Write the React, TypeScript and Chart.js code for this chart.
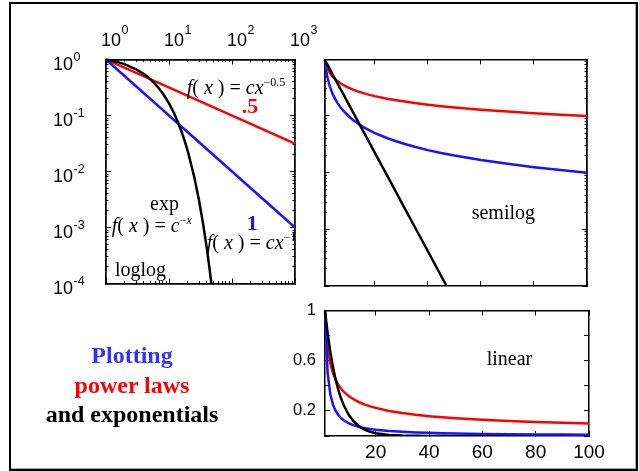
import React, { useEffect, useRef } from 'react';
import { Chart, registerables } from 'chart.js';

Chart.register(...registerables);

const SANS = '"Liberation Sans", Arial, Helvetica, sans-serif';
const SERIF = '"Liberation Serif", "Times New Roman", Times, serif';

// ---------------- data ----------------
// log-log panel: straight power laws from x=1 to x=1000
const loglogX = [1, 1000];
const loglogRed = [1, 0.0316]; // f(x) = c x^-0.5
const loglogBlue = [1, 0.001]; // f(x) = c x^-1

// exponential
const expX = [1, 1.5, 2, 3, 4, 5, 6, 7, 8, 10, 12, 14, 16, 18, 20, 25, 30, 35, 40, 44, 47];
const expY = [1, 0.905, 0.819, 0.67, 0.549, 0.449, 0.368, 0.301, 0.247, 0.165, 0.111, 0.0743, 0.0498, 0.0334, 0.0224, 0.00823, 0.00303, 0.00111, 0.00041, 0.000184, 0.000101];

// semilog / linear panels: x from 1 to 100
const linX = [1, 2, 3, 4, 5, 6, 7, 8, 10, 12, 14, 16, 18, 20, 25, 30, 35, 40, 45, 50, 60, 70, 80, 90, 100];
const linRed = [1, 0.707, 0.577, 0.5, 0.447, 0.408, 0.378, 0.354, 0.316, 0.289, 0.267, 0.25, 0.236, 0.224, 0.2, 0.183, 0.169, 0.158, 0.149, 0.141, 0.129, 0.12, 0.112, 0.105, 0.1];
const linBlue = [1, 0.5, 0.333, 0.25, 0.2, 0.167, 0.143, 0.125, 0.1, 0.0833, 0.0714, 0.0625, 0.0556, 0.05, 0.04, 0.0333, 0.0286, 0.025, 0.0222, 0.02, 0.0167, 0.0143, 0.0125, 0.0111, 0.01];

// ticks
const logYTicks = [0.0001, 0.001, 0.01, 0.1, 1];
const logYBase = ['10', '10', '10', '10', '10'];
const logYExps = ['-4', '-3', '-2', '-1', '0'];
const logXTicks = [1, 10, 100, 1000];
const logXBase = ['10', '10', '10', '10'];
const logXExps = ['0', '1', '2', '3'];
const linXTicks = [20, 40, 60, 80, 100];
const linXLabels = ['20', '40', '60', '80', '100'];
const linYTicks = [0, 0.2, 0.4, 0.6, 0.8, 1];
const linYLabels = ['', '0.2', '', '0.6', '', '1'];

const RED = '#ff0000';
const BLUE = 'rgb(20,20,255)';
const BLACK = '#000000';

const TICK_FONT = 18;
const EXP_FONT = 12.5;
const Y_LABEL_OFFSET = 6;
const X_LABEL_OFFSET = 5;

function minorDecades(lo: number, hi: number): number[] {
  const out: number[] = [];
  for (let e = lo; e < hi; e++) {
    for (let m = 2; m <= 9; m++) out.push(Number((m * Math.pow(10, e)).toPrecision(3)));
  }
  return out;
}

type AxisOpt = {
  pos: 'left' | 'right' | 'top' | 'bottom';
  type: 'linear' | 'logarithmic';
  min: number;
  max: number;
  ticks: number[];
  len: number;
  size?: number;
  labels?: string[];
  font?: number;
  pad?: number;
  crossAlign?: 'near' | 'far' | 'center';
  offset?: number;
};

function axis(o: AxisOpt): any {
  const horiz = o.pos === 'top' || o.pos === 'bottom';
  return {
    type: o.type,
    position: o.pos,
    min: o.min,
    max: o.max,
    weight: o.labels ? 1 : 0,
    afterBuildTicks: (s: any) => {
      s.ticks = o.ticks.map((v) => ({ value: v }));
    },
    afterFit: (s: any) => {
      if (horiz) s.height = o.size || 0;
      else s.width = o.size || 0;
      s.paddingLeft = 0;
      s.paddingRight = 0;
      s.paddingTop = 0;
      s.paddingBottom = 0;
    },
    grid: {
      display: true,
      drawOnChartArea: false,
      drawTicks: true,
      tickLength: -o.len,
      tickColor: '#000',
      tickWidth: 1,
      lineWidth: 1,
    },
    border: { display: true, color: '#000', width: 1.5 },
    ticks: o.labels
      ? {
          display: true,
          autoSkip: false,
          maxRotation: 0,
          minRotation: 0,
          color: '#000',
          font: { size: o.font, family: SANS },
          padding: o.pad,
          crossAlign: o.crossAlign || 'near',
          labelOffset: o.offset || 0,
          callback: (_v: any, i: number) => (o.labels as string[])[i],
        }
      : { display: false },
  };
}

function lineDs(xs: number[], ys: number[], color: string, extra: any = {}) {
  return {
    data: xs.map((x, i) => ({ x, y: ys[i] })),
    borderColor: color,
    backgroundColor: color,
    borderWidth: 2.5,
    pointRadius: 0,
    fill: false,
    tension: 0,
    ...extra,
  };
}

const clipBottom = { left: 2, right: 2, top: 2, bottom: 0 };

function baseOptions(padding: any, scales: any): any {
  return {
    animation: false,
    responsive: false,
    events: [],
    layout: { padding },
    plugins: { legend: { display: false }, tooltip: { enabled: false } },
    scales,
  };
}

// draws the exponents of the "10" tick labels, placed from the scales' tick pixels
const exponentPlugin = {
  id: 'exponents',
  afterDraw(chart: any) {
    const ctx = chart.ctx;
    ctx.save();
    ctx.fillStyle = '#000';
    ctx.textAlign = 'left';
    ctx.textBaseline = 'alphabetic';
    ctx.font = `${TICK_FONT}px ${SANS}`;
    const w10 = ctx.measureText('10').width;
    ctx.font = `${EXP_FONT}px ${SANS}`;
    const ys = chart.scales.y;
    logYTicks.forEach((v, i) => {
      const mid = ys.getPixelForValue(v) + Y_LABEL_OFFSET;
      const baseline = mid + TICK_FONT * 0.35;
      ctx.fillText(logYExps[i], ys.left + w10 + 0.5, baseline - 10.5);
    });
    const xs = chart.scales.x;
    const topBaseline = xs.bottom - 7.7 - TICK_FONT * 0.6 + TICK_FONT * 0.35;
    logXTicks.forEach((v, i) => {
      const cx = xs.getPixelForValue(v) + X_LABEL_OFFSET;
      ctx.fillText(logXExps[i], cx + w10 / 2 + 0.5, topBaseline - 13);
    });
    ctx.restore();
  },
};

function loglogConfig(): any {
  const yMinor = minorDecades(-4, 0);
  const xMinor = minorDecades(0, 3);
  const yl = { type: 'logarithmic' as const, min: 0.0001, max: 1 };
  const xl = { type: 'logarithmic' as const, min: 1, max: 1000 };
  return {
    type: 'line',
    data: {
      datasets: [
        lineDs(expX, expY, BLACK, { clip: clipBottom }),
        lineDs(loglogX, loglogBlue, BLUE),
        lineDs(loglogX, loglogRed, RED),
      ],
    },
    options: baseOptions(
      { left: 13, right: 45, top: 0, bottom: 11.5 },
      {
        y: axis({ ...yl, pos: 'left', ticks: logYTicks, len: 5, size: 53, labels: logYBase, font: TICK_FONT, crossAlign: 'far', offset: Y_LABEL_OFFSET }),
        ym: axis({ ...yl, pos: 'left', ticks: yMinor, len: 2.5 }),
        yr: axis({ ...yl, pos: 'right', ticks: logYTicks, len: 5 }),
        yrm: axis({ ...yl, pos: 'right', ticks: yMinor, len: 2.5 }),
        x: axis({ ...xl, pos: 'top', ticks: logXTicks, len: 5, size: 59.5, labels: logXBase, font: TICK_FONT, pad: 12.7, offset: X_LABEL_OFFSET }),
        xm: axis({ ...xl, pos: 'top', ticks: xMinor, len: 2.5 }),
        xb: axis({ ...xl, pos: 'bottom', ticks: logXTicks, len: 5 }),
        xbm: axis({ ...xl, pos: 'bottom', ticks: xMinor, len: 2.5 }),
      }
    ),
    plugins: [exponentPlugin],
  };
}

function semilogConfig(): any {
  const yMinor = minorDecades(-4, 0);
  const yl = { type: 'logarithmic' as const, min: 0.0001, max: 1 };
  const xl = { type: 'linear' as const, min: 1, max: 100 };
  return {
    type: 'line',
    data: {
      datasets: [
        lineDs(expX, expY, BLACK, { clip: clipBottom }),
        lineDs(linX, linBlue, BLUE),
        lineDs(linX, linRed, RED),
      ],
    },
    options: baseOptions(
      { left: 10.5, right: 10, top: 10.3, bottom: 10 },
      {
        y: axis({ ...yl, pos: 'left', ticks: logYTicks, len: 5 }),
        ym: axis({ ...yl, pos: 'left', ticks: yMinor, len: 2.5 }),
        yr: axis({ ...yl, pos: 'right', ticks: logYTicks, len: 5 }),
        yrm: axis({ ...yl, pos: 'right', ticks: yMinor, len: 2.5 }),
        x: axis({ ...xl, pos: 'bottom', ticks: linXTicks, len: 5 }),
        xt: axis({ ...xl, pos: 'top', ticks: linXTicks, len: 5 }),
      }
    ),
  };
}

function linearConfig(): any {
  const yl = { type: 'linear' as const, min: 0, max: 1 };
  const xl = { type: 'linear' as const, min: 1, max: 100 };
  return {
    type: 'line',
    data: {
      datasets: [
        lineDs(expX, expY, BLACK, { clip: clipBottom }),
        lineDs(linX, linBlue, BLUE, { clip: clipBottom }),
        lineDs(linX, linRed, RED),
      ],
    },
    options: baseOptions(
      { left: 0, right: 21, top: 10.5, bottom: 0 },
      {
        y: axis({ ...yl, pos: 'left', ticks: linYTicks, len: 5, size: 60, labels: linYLabels, font: 16.5, pad: 14 }),
        yr: axis({ ...yl, pos: 'right', ticks: linYTicks, len: 5 }),
        x: axis({ ...xl, pos: 'bottom', ticks: linXTicks, len: 5, size: 35, labels: linXLabels, font: 19, pad: 10.5 }),
        xt: axis({ ...xl, pos: 'top', ticks: linXTicks, len: 5 }),
      }
    ),
  };
}

function ChartBox(props: { left: number; top: number; width: number; height: number; make: () => any }) {
  const ref = useRef<HTMLCanvasElement>(null);
  useEffect(() => {
    const chart = new Chart(ref.current as HTMLCanvasElement, props.make());
    return () => chart.destroy();
  }, []);
  return (
    <canvas
      ref={ref}
      width={props.width}
      height={props.height}
      style={{ position: 'absolute', left: props.left, top: props.top, width: props.width, height: props.height }}
    />
  );
}

function Txt(props: { x: number; y: number; size: number; children: any; style?: any }) {
  const { x, y, size } = props;
  return (
    <div
      style={{
        position: 'absolute',
        left: x,
        top: y - size * 0.8375,
        fontSize: size,
        lineHeight: `${size}px`,
        whiteSpace: 'nowrap',
        fontFamily: SERIF,
        color: '#000',
        ...(props.style || {}),
      }}
    >
      {props.children}
    </div>
  );
}

const Sup = (p: { children: any }) => (
  <span style={{ fontSize: 12, verticalAlign: 8, lineHeight: 0 }}>{p.children}</span>
);

export default function App() {
  return (
    <div style={{ position: 'absolute', left: 0, top: 0, width: 639, height: 471, overflow: 'hidden', background: '#fff' }}>
      <div
        style={{
          position: 'absolute',
          left: 8.5,
          top: 1.5,
          width: 629.5,
          height: 469,
          boxSizing: 'border-box',
          border: '2.5px solid #000',
          boxShadow: 'inset -1px -1px 0 #aaa',
        }}
      />
      <ChartBox left={40} top={0} width={300} height={295} make={loglogConfig} />
      <ChartBox left={314} top={49} width={283} height={247} make={semilogConfig} />
      <ChartBox left={265} top={300} width={345} height={171} make={linearConfig} />

      {/* annotations in log-log panel */}
      <Txt x={186.7} y={94} size={20}>
        <i>f</i>( <i>x</i> ) = <i>cx</i>
        <Sup>{'\u22120.5'}</Sup>
      </Txt>
      <Txt x={241.7} y={113.3} size={22} style={{ color: RED, fontWeight: 'bold' }}>
        .5
      </Txt>
      <Txt x={150} y={209.3} size={20}>
        exp
      </Txt>
      <Txt x={111.7} y={231.7} size={20}>
        <i>f</i>( <i>x</i> ) = <i>c</i>
        <Sup>
          {'\u2212'}
          <i>x</i>
        </Sup>
      </Txt>
      <Txt x={246.7} y={230} size={22} style={{ color: BLUE, fontWeight: 'bold' }}>
        1
      </Txt>
      <Txt x={206.7} y={248.3} size={20}>
        <i>f</i>( <i>x</i> ) = <i>cx</i>
        <Sup>{'\u22121'}</Sup>
      </Txt>
      <Txt x={115} y={276} size={20}>
        loglog
      </Txt>

      <Txt x={471.7} y={218.3} size={20}>
        semilog
      </Txt>
      <Txt x={486.7} y={364.3} size={20}>
        linear
      </Txt>

      {/* title block */}
      <Txt x={0} y={363.3} size={24} style={{ width: 264, textAlign: 'center', fontWeight: 'bold', color: 'rgb(51,51,255)' }}>
        Plotting
      </Txt>
      <Txt x={0} y={392.7} size={24} style={{ width: 264, textAlign: 'center', fontWeight: 'bold', color: RED }}>
        power laws
      </Txt>
      <Txt x={0} y={421.7} size={24} style={{ width: 264, textAlign: 'center', fontWeight: 'bold', color: '#000' }}>
        and exponentials
      </Txt>
    </div>
  );
}
